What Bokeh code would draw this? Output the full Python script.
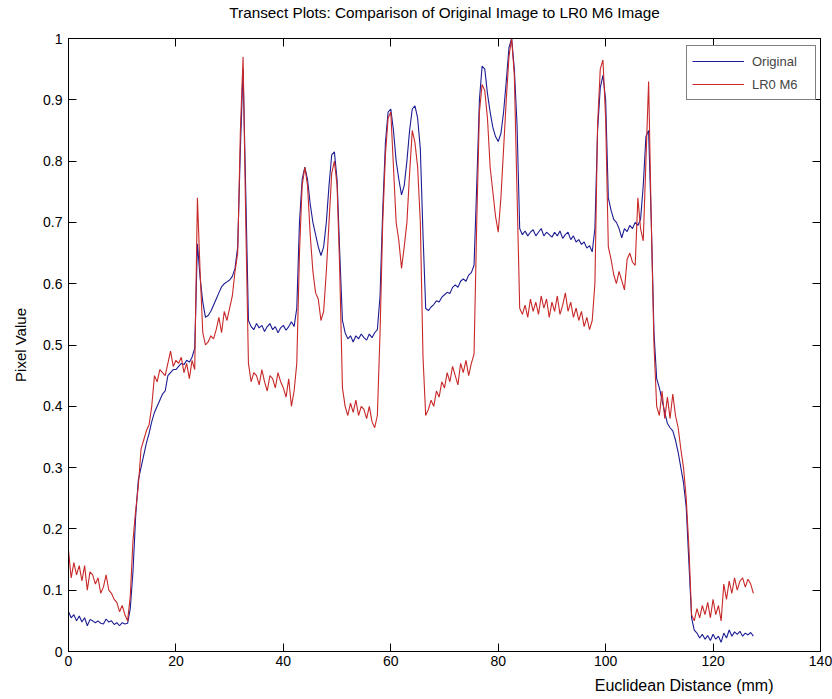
from bokeh.plotting import figure
from bokeh.models import Range1d, LinearAxis, FixedTicker, Legend, LegendItem, Title
from bokeh.embed import file_html
from bokeh.resources import INLINE

TITLE = "Transect Plots: Comparison of Original Image to LR0 M6 Image"
X_LABEL = "Euclidean Distance (mm)"
Y_LABEL = "Pixel Value"
SERIES_NAMES = ["Original", "LR0 M6"]
X_TICKS = [0, 20, 40, 60, 80, 100, 120, 140]
Y_TICKS = [0, 0.1, 0.2, 0.3, 0.4, 0.5, 0.6, 0.7, 0.8, 0.9, 1]
Y_TICK_LABELS = ["0", "0.1", "0.2", "0.3", "0.4", "0.5", "0.6", "0.7", "0.8", "0.9", "1"]

# sample spacing along the transect (mm)
STEP = 0.5

original = [
    0.065, 0.055, 0.060, 0.050, 0.058, 0.048, 0.055, 0.042, 0.052, 0.050,
    0.047, 0.050, 0.046, 0.045, 0.053, 0.048, 0.050, 0.044, 0.047, 0.042,
    0.047, 0.045, 0.046, 0.070, 0.130, 0.220, 0.280, 0.300, 0.320, 0.340,
    0.356, 0.375, 0.390, 0.400, 0.410, 0.420, 0.425, 0.450, 0.455, 0.460,
    0.460, 0.465, 0.470, 0.468, 0.475, 0.472, 0.480, 0.495, 0.665, 0.610,
    0.570, 0.545, 0.548, 0.555, 0.565, 0.575, 0.585, 0.595, 0.600, 0.603,
    0.606, 0.612, 0.625, 0.660, 0.820, 0.950, 0.750, 0.540, 0.530, 0.525,
    0.535, 0.528, 0.532, 0.522, 0.530, 0.535, 0.525, 0.530, 0.520, 0.528,
    0.532, 0.524, 0.530, 0.538, 0.530, 0.560, 0.700, 0.770, 0.790, 0.770,
    0.730, 0.700, 0.680, 0.660, 0.646, 0.660, 0.700, 0.760, 0.810, 0.815,
    0.770, 0.650, 0.540, 0.520, 0.510, 0.515, 0.505, 0.515, 0.510, 0.518,
    0.512, 0.508, 0.518, 0.512, 0.520, 0.525, 0.580, 0.720, 0.830, 0.880,
    0.885, 0.850, 0.800, 0.770, 0.745, 0.760, 0.800, 0.850, 0.885, 0.890,
    0.870, 0.820, 0.680, 0.560, 0.556, 0.562, 0.566, 0.572, 0.570, 0.578,
    0.582, 0.586, 0.584, 0.594, 0.598, 0.594, 0.604, 0.608, 0.604, 0.614,
    0.618, 0.630, 0.760, 0.900, 0.955, 0.950, 0.910, 0.880, 0.855, 0.840,
    0.832, 0.845, 0.880, 0.930, 0.985, 1.000, 0.950, 0.860, 0.690, 0.680,
    0.686, 0.678, 0.684, 0.688, 0.678, 0.684, 0.690, 0.678, 0.684, 0.680,
    0.676, 0.684, 0.678, 0.686, 0.674, 0.680, 0.684, 0.672, 0.678, 0.668,
    0.672, 0.664, 0.668, 0.658, 0.662, 0.652, 0.690, 0.850, 0.920, 0.940,
    0.900, 0.740, 0.720, 0.705, 0.700, 0.690, 0.675, 0.690, 0.685, 0.695,
    0.690, 0.700, 0.695, 0.705, 0.760, 0.840, 0.850, 0.700, 0.520, 0.445,
    0.430, 0.410, 0.390, 0.372, 0.365, 0.360, 0.345, 0.325, 0.300, 0.275,
    0.235, 0.145, 0.055, 0.035, 0.030, 0.022, 0.028, 0.020, 0.026, 0.018,
    0.028, 0.020, 0.025, 0.015, 0.030, 0.022, 0.035, 0.025, 0.032, 0.028,
    0.033, 0.025, 0.030, 0.027, 0.031, 0.025,
]

lr0_m6 = [
    0.165, 0.120, 0.145, 0.125, 0.140, 0.115, 0.140, 0.100, 0.130, 0.125,
    0.110, 0.120, 0.095, 0.105, 0.125, 0.100, 0.095, 0.085, 0.080, 0.065,
    0.075, 0.060, 0.050, 0.090, 0.180, 0.230, 0.270, 0.330, 0.345, 0.360,
    0.370, 0.400, 0.450, 0.440, 0.460, 0.455, 0.450, 0.470, 0.490, 0.465,
    0.475, 0.470, 0.480, 0.455, 0.470, 0.445, 0.475, 0.460, 0.740, 0.620,
    0.520, 0.500, 0.505, 0.515, 0.510, 0.525, 0.545, 0.520, 0.555, 0.540,
    0.560, 0.580, 0.620, 0.650, 0.850, 0.970, 0.700, 0.470, 0.440, 0.455,
    0.450, 0.435, 0.460, 0.440, 0.425, 0.450, 0.445, 0.430, 0.455, 0.440,
    0.430, 0.415, 0.445, 0.400, 0.425, 0.470, 0.650, 0.760, 0.790, 0.760,
    0.680, 0.620, 0.585, 0.575, 0.540, 0.555, 0.620, 0.700, 0.780, 0.800,
    0.760, 0.620, 0.430, 0.400, 0.385, 0.405, 0.390, 0.410, 0.385, 0.400,
    0.395, 0.380, 0.400, 0.375, 0.365, 0.385, 0.520, 0.700, 0.810, 0.870,
    0.880, 0.790, 0.700, 0.670, 0.625, 0.660, 0.700, 0.780, 0.850, 0.830,
    0.790, 0.700, 0.480, 0.385, 0.395, 0.410, 0.400, 0.425, 0.415, 0.440,
    0.430, 0.455, 0.440, 0.465, 0.450, 0.435, 0.470, 0.455, 0.475, 0.450,
    0.470, 0.485, 0.700, 0.880, 0.925, 0.915, 0.870, 0.790, 0.750, 0.710,
    0.684, 0.740, 0.820, 0.900, 0.970, 1.000, 0.940, 0.750, 0.560, 0.550,
    0.565, 0.545, 0.575, 0.555, 0.570, 0.550, 0.580, 0.560, 0.575, 0.545,
    0.570, 0.555, 0.580, 0.550, 0.565, 0.585, 0.555, 0.570, 0.545, 0.560,
    0.540, 0.555, 0.530, 0.545, 0.525, 0.540, 0.600, 0.860, 0.950, 0.965,
    0.870, 0.660, 0.640, 0.615, 0.600, 0.620, 0.605, 0.590, 0.640, 0.650,
    0.635, 0.630, 0.740, 0.690, 0.670, 0.800, 0.930, 0.700, 0.500, 0.400,
    0.385, 0.425, 0.380, 0.415, 0.380, 0.420, 0.385, 0.365, 0.330, 0.300,
    0.250, 0.170, 0.060, 0.050, 0.070, 0.055, 0.075, 0.060, 0.080, 0.055,
    0.085, 0.060, 0.075, 0.050, 0.110, 0.085, 0.115, 0.095, 0.120, 0.100,
    0.115, 0.120, 0.105, 0.118, 0.110, 0.095,
]

distance = [i * STEP for i in range(len(original))]

FONT = "Liberation Sans"
BLUE = "#1c1c94"
RED = "#c82828"

p = figure(
    width=832, height=699,
    min_border_left=68, min_border_right=12, min_border_top=38, min_border_bottom=48,
    x_range=Range1d(0, 140), y_range=Range1d(0, 1),
    output_backend="svg", toolbar_location=None, title=None,
)
p.background_fill_color = "white"
p.border_fill_color = "white"
p.outline_line_color = "black"
p.outline_line_width = 1
p.xgrid.grid_line_color = None
p.ygrid.grid_line_color = None


def style_axis(ax, ticks, show_labels):
    ax.ticker = FixedTicker(ticks=ticks)
    ax.major_tick_in = 8
    ax.major_tick_out = 0
    ax.minor_tick_in = 0
    ax.minor_tick_out = 0
    ax.axis_line_color = "black"
    ax.major_tick_line_color = "black"
    if show_labels:
        ax.major_label_text_font = FONT
        ax.major_label_text_font_size = "14px"
        ax.major_label_text_color = "black"
    else:
        ax.major_label_text_font_size = "0px"
        ax.major_label_text_color = None
        ax.major_label_standoff = 0


xb = p.below[0]
style_axis(xb, X_TICKS, True)
xb.major_label_standoff = 4

yl = p.left[0]
style_axis(yl, Y_TICKS, True)
yl.major_label_overrides = {t: s for t, s in zip(Y_TICKS, Y_TICK_LABELS)}
yl.major_label_standoff = 6
yl.axis_label = Y_LABEL
yl.axis_label_text_font = FONT
yl.axis_label_text_font_size = "15px"
yl.axis_label_text_font_style = "normal"
yl.axis_label_text_color = "black"
yl.axis_label_standoff = 11

xa = LinearAxis()
style_axis(xa, X_TICKS, False)
p.add_layout(xa, "above")
ya = LinearAxis()
style_axis(ya, Y_TICKS, False)
p.add_layout(ya, "right")

p.add_layout(Title(text=TITLE, align="center", text_font=FONT, text_font_size="15.3px",
                   text_font_style="normal", text_color="black", standoff=2,
                   padding=dict(left=0, right=0, top=0, bottom=17)), "above")

# x-axis label sits to the right of centre in the reference
p.add_layout(Title(text=X_LABEL, align="right", offset=47, text_font=FONT, text_font_size="16px",
                   text_font_style="normal", text_color="black", standoff=2,
                   padding=dict(left=0, right=0, top=5, bottom=0)), "below")

rb = p.line(distance, original, line_color=BLUE, line_width=1.1)
rr = p.line(distance, lr0_m6, line_color=RED, line_width=1.1)

legend = Legend(
    items=[LegendItem(label=SERIES_NAMES[0], renderers=[rb]),
           LegendItem(label=SERIES_NAMES[1], renderers=[rr])],
    location=(618, 551), margin=0, padding=5, spacing=3,
    label_standoff=8, glyph_width=52, glyph_height=20, label_height=20, label_width=58,
    label_text_font=FONT, label_text_font_size="13px",
    border_line_color="black", border_line_width=1, background_fill_alpha=1.0,
)
p.add_layout(legend)

open("out.html", "w").write(file_html(p, INLINE))
